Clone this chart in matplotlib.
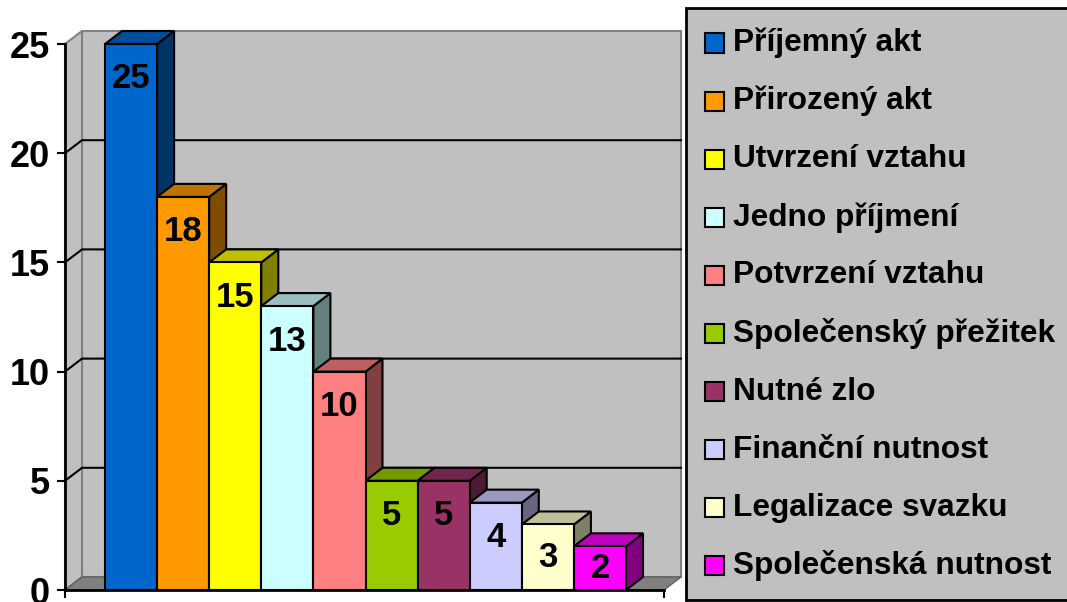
import matplotlib
matplotlib.use("Agg")
import matplotlib.pyplot as plt
from matplotlib.patches import Polygon, Rectangle
import numpy as np

categories = ["Příjemný akt", "Přirozený akt", "Utvrzení vztahu", "Jedno příjmení",
              "Potvrzení vztahu", "Společenský přežitek", "Nutné zlo",
              "Finanční nutnost", "Legalizace svazku", "Společenská nutnost"]
values = [25, 18, 15, 13, 10, 5, 5, 4, 3, 2]
colors = ["#0066CC", "#FF9900", "#FFFF00", "#CCFFFF", "#FF8080",
          "#99CC00", "#993366", "#CCCCFF", "#FFFFCC", "#FF00FF"]
yticks = [0, 5, 10, 15, 20, 25]

W, H = 1067, 602
plt.rcParams['font.family'] = ['Liberation Sans', 'DejaVu Sans']
plt.rcParams['font.weight'] = 'bold'

fig = plt.figure(figsize=(W / 100, H / 100), dpi=100)

# plot area in pixels: value 0 at y=590, back wall top at y=31, x 65..681
ax = fig.add_axes([65 / W, (H - 590) / H, (681 - 65) / W, (590 - 31) / H])

px_per_unit_y = (590 - 44) / 25
px_per_unit_x = 52.1
dx = 17 / px_per_unit_x          # depth offset (x)
dy = 13 / px_per_unit_y          # depth offset (y)
x0 = -0.5 - 40 / px_per_unit_x
x1 = -0.5 + 576 / px_per_unit_x
ytop = 25 + dy
ax.set_xlim(x0, x1)
ax.set_ylim(0, ytop)
ax.set_facecolor("none")

wall = "#C0C0C0"
wall_edge = "#808080"
# back wall
ax.add_patch(Rectangle((x0 + dx, dy), x1 - x0 - dx, 25, facecolor=wall,
                       edgecolor=wall_edge, lw=1.5, zorder=0.5, clip_on=False))
# left wall
ax.add_patch(Polygon([(x0, 0), (x0, 25), (x0 + dx, ytop), (x0 + dx, dy)],
                     facecolor=wall, edgecolor=wall_edge, lw=1.5, zorder=0.6, clip_on=False))
# gridlines on walls
for t in yticks[1:-1]:
    ax.plot([x0, x0 + dx, x1], [t, t + dy, t + dy], color="black", lw=1.5,
            zorder=0.8, clip_on=False)
# floor
ax.add_patch(Polygon([(x0, 0), (x1 - dx, 0), (x1, dy), (x0 + dx, dy)],
                     facecolor="#808080", edgecolor="#606060", lw=1, zorder=0.9, clip_on=False))


def shade(c, f):
    rgb = np.array(matplotlib.colors.to_rgb(c))
    return tuple(rgb * f)


for i, (v, c) in enumerate(zip(values, colors)):
    left, right = i - 0.5, i + 0.5
    z = 2 + i * 3
    side = Polygon([(right, 0), (right + dx, dy), (right + dx, v + dy), (right, v)],
                   facecolor=shade(c, 0.5), edgecolor="black", lw=1.5, zorder=z, clip_on=False)
    top = Polygon([(left, v), (right, v), (right + dx, v + dy), (left + dx, v + dy)],
                  facecolor=shade(c, 0.75), edgecolor="black", lw=1.5, zorder=z + 1, clip_on=False)
    ax.add_patch(side)
    ax.add_patch(top)
    ax.bar(i, v, width=1, color=c, edgecolor="black", linewidth=1.5, zorder=z + 2)
    ax.text(i, max(v - 1.6, v / 2), str(v), ha="center", va="center",
            fontsize=25, fontweight="bold", zorder=50)

for s in ["top", "right"]:
    ax.spines[s].set_visible(False)
ax.spines["left"].set_bounds(0, 25)
ax.spines["bottom"].set_bounds(x0, x1 - dx)
ax.spines["left"].set_linewidth(2)
ax.spines["bottom"].set_linewidth(2)
ax.spines["left"].set_zorder(60)
ax.spines["bottom"].set_zorder(60)
ax.set_yticks(yticks)
ax.set_yticklabels([str(t) for t in yticks], fontsize=26, fontweight="bold")
ax.set_xticks([x0, x1 - dx])
ax.set_xticklabels(["", ""])
ax.tick_params(axis="both", length=6, width=1.5, pad=5, direction="out")

# legend box
fig.patches.append(Rectangle((686 / W, (H - 600) / H), (1075 - 686) / W, (600 - 8) / H,
                             transform=fig.transFigure, facecolor=wall,
                             edgecolor="black", lw=2, zorder=0))
for k, (lab, c) in enumerate(zip(categories, colors)):
    yc = 43 + k * 58.1
    fig.patches.append(Rectangle((705 / W, (H - yc - 9.5) / H), 19 / W, 19 / H,
                                 transform=fig.transFigure, facecolor=c,
                                 edgecolor="black", lw=1.5, zorder=1))
    fig.text(733 / W, (H - yc) / H, lab, ha="left", va="center",
             fontsize=22.8, fontweight="bold")

fig.savefig("out.png", dpi=100)
